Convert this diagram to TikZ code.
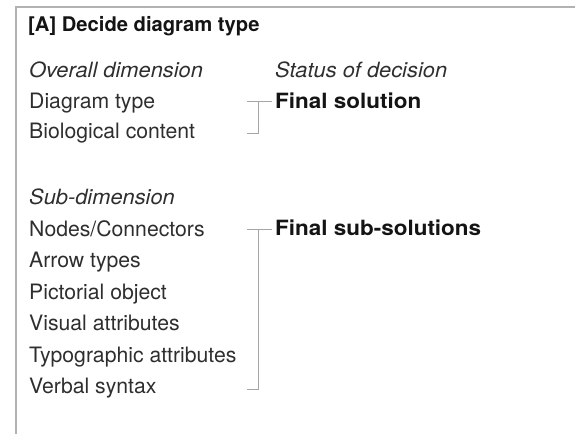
\documentclass[tikz,border=0pt]{standalone}
\usepackage{fontspec}
\setmainfont{TeX Gyre Heros}
\newfontfamily\boldwide[FakeStretch=1.07]{TeX Gyre Heros}
\newfontfamily\italwide[FakeStretch=1.04]{TeX Gyre Heros}
\begin{document}
\begin{tikzpicture}[x=1pt,y=-1pt,
  txt/.style={anchor=base west,inner sep=0pt,font=\fontsize{21.2}{25}\selectfont,text=black!82},
  ital/.style={txt,font=\italwide\fontsize{21}{25}\selectfont\itshape},
  boldtxt/.style={txt,font=\boldwide\fontsize{21}{25}\selectfont\bfseries,text=black!92},
  titletxt/.style={txt,font=\fontsize{20.2}{25}\selectfont\bfseries,text=black!92},
  frame/.style={draw=black!30,line width=1.4pt},
  brk/.style={draw=black!35,line width=0.9pt}]
\useasboundingbox (0,0) rectangle (575,434);
% frame
\coordinate (f1) at (16,434);
\coordinate (f2) at (16,7);
\coordinate (f3) at (575,7);
\draw[frame] (f1) -- (f2) -- (f3);
% title
\node[titletxt] (title) at (28,31) {[A] Decide diagram type};
% left column
\node[ital] (od) at (29,77) {Overall dimension};
\node[txt] (dt) at (29,108) {Diagram type};
\node[txt] (bc) at (29,138.5) {Biological content};
\node[ital] (sd) at (29,204.5) {Sub-dimension};
\node[txt] (nc) at (29,236) {Nodes/Connectors};
\node[txt] (at) at (29,267.5) {Arrow types};
\node[txt] (po) at (29,299) {Pictorial object};
\node[txt] (va) at (29,330.5) {Visual attributes};
\node[txt] (ta) at (29,362) {Typographic attributes};
\node[txt] (vs) at (29,393) {Verbal syntax};
% right column
\node[ital] (st) at (275,77) {Status of decision};
\node[boldtxt] (fs) at (275,108) {Final solution};
\node[boldtxt] (fss) at (275,235) {Final sub-solutions};
% bracket 1
\coordinate (b1a) at (247,101);
\coordinate (b1b) at (258,101);
\coordinate (b1d) at (258,133);
\coordinate (b1e) at (247,133);
\draw[brk,shorten >=3.5pt] (b1a) -- (fs.west |- b1a);
\draw[brk] (b1b) -- (b1d) -- (b1e);
% bracket 2
\coordinate (b2a) at (247,229);
\coordinate (b2b) at (258,229);
\coordinate (b2d) at (258,389);
\coordinate (b2e) at (247,389);
\draw[brk,shorten >=3.5pt] (b2a) -- (fss.west |- b2a);
\draw[brk] (b2b) -- (b2d) -- (b2e);
\end{tikzpicture}
\end{document}
